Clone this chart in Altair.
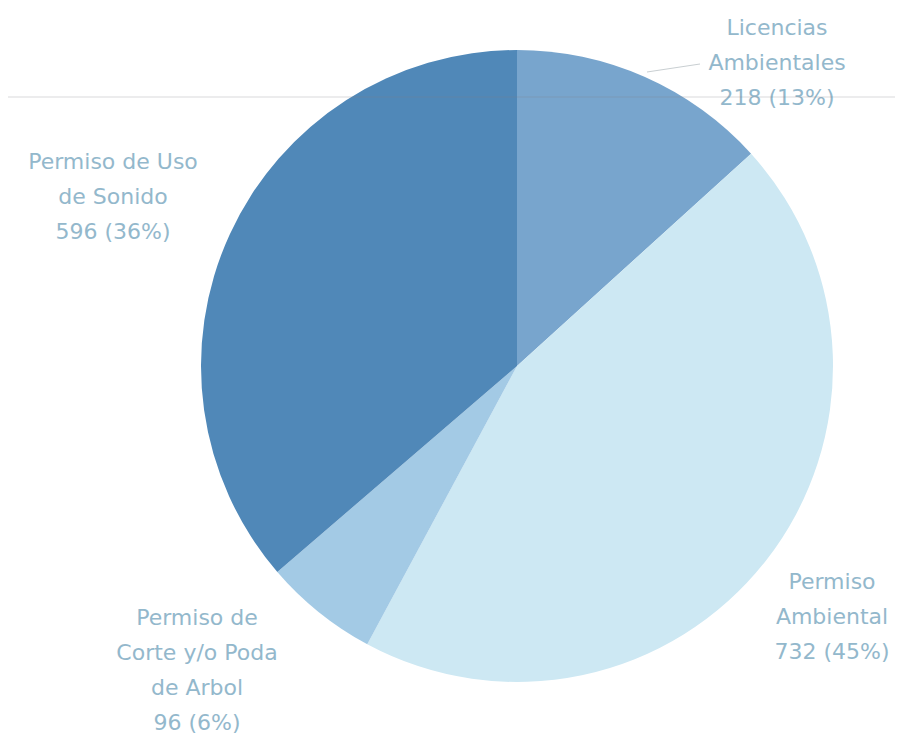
import altair as alt
import pandas as pd

# ---- data ----
categories = ["Licencias Ambientales", "Permiso Ambiental",
              "Permiso de Corte y/o Poda de Arbol", "Permiso de Uso de Sonido"]
values = [218, 732, 96, 596]
percents = [13, 45, 6, 36]
label_lines = ["Licencias\nAmbientales", "Permiso\nAmbiental",
               "Permiso de\nCorte y/o Poda\nde Arbol", "Permiso de Uso\nde Sonido"]

# ---- layout / style ----
colors = ["#78a5cd", "#cde8f3", "#a3cae5", "#5088b8"]
label_x = [769, 824, 189, 105]
label_y = [20, 574, 610, 154]   # first-line positions
CX, CY, R = 509, 358, 316

df = pd.DataFrame({
    "cat": categories,
    "value": values,
    "order": list(range(len(categories))),
    "label": [f"{t}\n{v} ({p}%)" for t, v, p in zip(label_lines, values, percents)],
    "lx": label_x,
    "ly": label_y,
})

color_scale = alt.Scale(domain=categories, range=colors)

pie = alt.Chart(df).mark_arc(radius=R, stroke=None).encode(
    theta=alt.Theta("value:Q", stack=True),
    order=alt.Order("order:Q"),
    color=alt.Color("cat:N", scale=color_scale, legend=None),
    x=alt.value(CX),
    y=alt.value(CY),
)

labels = alt.Chart(df).mark_text(
    font="DejaVu Sans", fontSize=22, lineBreak="\n", lineHeight=35,
    align="center", baseline="middle", color="#93b8cc",
).encode(
    x=alt.X("lx:Q", scale=None),
    y=alt.Y("ly:Q", scale=None),
    text="label:N",
)

leader = alt.Chart(pd.DataFrame({"a": [0]})).mark_rule(
    color="#c9cfd2", strokeWidth=1
).encode(x=alt.value(639), y=alt.value(64), x2=alt.value(692), y2=alt.value(56))

crease = alt.Chart(pd.DataFrame({"a": [0]})).mark_rule(
    color="#7d8184", strokeWidth=1, opacity=0.3
).encode(x=alt.value(0), y=alt.value(89), x2=alt.value(887), y2=alt.value(89))

chart = alt.layer(pie, leader, labels, crease).properties(
    width=887, height=728,
    autosize=alt.AutoSizeParams(type="none"),
    padding=0,
    background="white",
).configure_view(stroke=None)

chart.save("out.html", embed_options={"renderer": "svg", "actions": False})
